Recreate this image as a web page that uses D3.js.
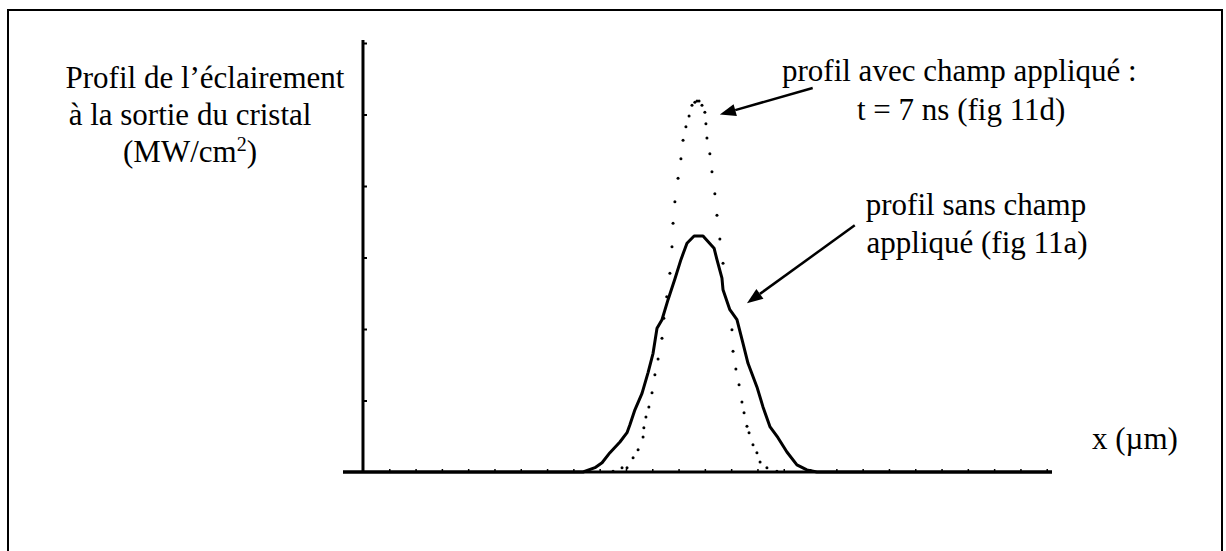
<!DOCTYPE html>
<html>
<head>
<meta charset="utf-8">
<script src="https://cdn.jsdelivr.net/npm/d3@7"></script>
<style>
  html, body { margin: 0; padding: 0; background: #fff; }
  svg { display: block; }
  text { font-family: "Liberation Serif", "Times New Roman", serif; fill: #000; }
</style>
</head>
<body>
<svg id="chart" width="1226" height="551"></svg>
<script>
// ---------- data (x in axis units, y in MW/cm² units) ----------
const xTicks = d3.range(1, 27);
const yTicks = [1, 2, 3, 4, 5, 6];

// profil sans champ appliqué (solid)
const solidX = [-0.76, 8.37, 8.82, 9.09, 9.39, 9.77, 10.04, 10.15, 10.34, 10.61, 10.84, 11.03, 11.18, 11.37, 11.60, 11.86, 12.09, 12.32, 12.59, 12.93, 13.35, 13.46, 13.65, 13.69, 13.95, 14.22, 14.45, 14.64, 14.98, 15.21, 15.48, 15.78, 16.12, 16.50, 16.88, 17.26, 26.2];
const solidY = [0, 0, 0.06, 0.13, 0.27, 0.42, 0.55, 0.66, 0.87, 1.10, 1.39, 1.66, 2.01, 2.13, 2.41, 2.70, 2.97, 3.20, 3.30, 3.30, 3.13, 2.97, 2.71, 2.55, 2.27, 2.13, 1.80, 1.52, 1.19, 0.91, 0.63, 0.48, 0.28, 0.10, 0.03, 0, 0];

// profil avec champ appliqué, t = 7 ns (dotted)
const dotX = [9.51, 9.85, 10.04, 10.27, 10.46, 10.65, 10.68, 10.76, 10.87, 10.99, 11.10, 11.22, 11.37, 11.44, 11.55, 11.67, 11.75, 11.79, 11.86, 11.98, 12.09, 12.17, 12.28, 12.40, 12.51, 12.62, 12.70, 12.78, 12.89, 13.00, 13.04, 13.08, 13.19, 13.27, 13.38, 13.46, 13.57, 13.69, 14.03, 14.07, 14.18, 14.30, 14.41, 14.49, 14.60, 14.68, 14.83, 14.98, 15.10, 15.36, 15.74];
const dotY = [0.01, 0.06, 0.06, 0.20, 0.31, 0.49, 0.62, 0.77, 0.91, 1.11, 1.36, 1.58, 1.87, 2.15, 2.45, 2.78, 3.15, 3.48, 3.78, 4.11, 4.38, 4.64, 4.83, 4.98, 5.13, 5.17, 5.19, 5.19, 5.13, 5.03, 4.87, 4.67, 4.45, 4.20, 3.89, 3.59, 3.26, 2.92, 1.99, 1.69, 1.44, 1.22, 0.98, 0.83, 0.64, 0.55, 0.38, 0.27, 0.14, 0.06, 0.01];

const yTitleLines = ["Profil de l\u2019éclairement", "à la sortie du cristal"];
const yUnit = ["(MW/cm", "2", ")"];
const xTitle = "x (\u00b5m)";
const noteWithField = ["profil avec champ appliqué :", "t = 7 ns (fig 11d)"];
const noteWithoutField = ["profil sans champ", "appliqué (fig 11a)"];

// ---------- drawing ----------
const svg = d3.select("#chart");
const x = d3.scaleLinear().domain([-0.76, 26.2]).range([343, 1052]);
const y = d3.scaleLinear().domain([0, 6]).range([472, 43]);

// outer frame
svg.append("rect").attr("x", 8).attr("y", 10).attr("width", 1214).attr("height", 560)
  .attr("fill", "none").attr("stroke", "#000").attr("stroke-width", 2);

// axes
const xAxis = d3.axisTop(x).tickValues(xTicks).tickSize(3).tickFormat("");
const gx = svg.append("g").attr("transform", `translate(0,${y(0)})`).call(xAxis);
gx.select(".domain").attr("d", `M${x(-0.76)},0H${x(26.2)}`).attr("stroke-width", 3);
gx.selectAll(".tick line").attr("stroke-width", 1.5);

const yAxis = d3.axisRight(y).tickValues(yTicks).tickSize(4).tickFormat("");
const gy = svg.append("g").attr("transform", `translate(${x(0)},0)`).call(yAxis);
gy.select(".domain").attr("d", `M0,${y(0)}V${y(6) - 3}`).attr("stroke-width", 3);
gy.selectAll(".tick line").attr("stroke-width", 2);

// solid curve
const solid = solidX.map((v, i) => [v, solidY[i]]);
svg.append("path").datum(solid)
  .attr("d", d3.line().x(d => x(d[0])).y(d => y(d[1])))
  .attr("fill", "none").attr("stroke", "#000").attr("stroke-width", 3)
  .attr("stroke-linejoin", "round");

// dotted curve
const dots = dotX.map((v, i) => [v, dotY[i]]);
svg.append("g").selectAll("circle").data(dots).join("circle")
  .attr("cx", d => x(d[0])).attr("cy", d => y(d[1])).attr("r", 1.5).attr("fill", "#000");

// arrows
function arrow(x1, y1, x2, y2) {
  const ang = Math.atan2(y2 - y1, x2 - x1);
  const L = 16, W = 6;
  const bx = x2 - L * Math.cos(ang), by = y2 - L * Math.sin(ang);
  svg.append("line").attr("x1", x1).attr("y1", y1).attr("x2", bx).attr("y2", by)
    .attr("stroke", "#000").attr("stroke-width", 2.5);
  const px = -Math.sin(ang) * W, py = Math.cos(ang) * W;
  svg.append("path")
    .attr("d", `M${x2},${y2}L${bx + px},${by + py}L${bx - px},${by - py}Z`)
    .attr("fill", "#000");
}
arrow(x(17.1), y(5.37), x(13.57), y(5.0));
arrow(x(18.7), y(3.45), x(14.6), y(2.36));

// texts
const fs = 31;
svg.append("text").attr("x", 205).attr("y", 88).attr("text-anchor", "middle")
  .attr("font-size", fs).text(yTitleLines[0]);
svg.append("text").attr("x", 190).attr("y", 125).attr("text-anchor", "middle")
  .attr("font-size", fs).text(yTitleLines[1]);
const u = svg.append("text").attr("x", 190).attr("y", 162).attr("text-anchor", "middle").attr("font-size", fs);
u.append("tspan").text(yUnit[0]);
u.append("tspan").attr("dy", -11).attr("font-size", 20).text(yUnit[1]);
u.append("tspan").attr("dy", 11).text(yUnit[2]);

svg.append("text").attr("x", 782).attr("y", 81).attr("font-size", fs).text(noteWithField[0]);
svg.append("text").attr("x", 857).attr("y", 120).attr("font-size", fs).text(noteWithField[1]);
svg.append("text").attr("x", 976).attr("y", 215).attr("text-anchor", "middle").attr("font-size", fs).text(noteWithoutField[0]);
svg.append("text").attr("x", 977).attr("y", 253).attr("text-anchor", "middle").attr("font-size", fs).text(noteWithoutField[1]);
svg.append("text").attr("x", 1092).attr("y", 449).attr("font-size", fs).text(xTitle);
</script>
</body>
</html>
